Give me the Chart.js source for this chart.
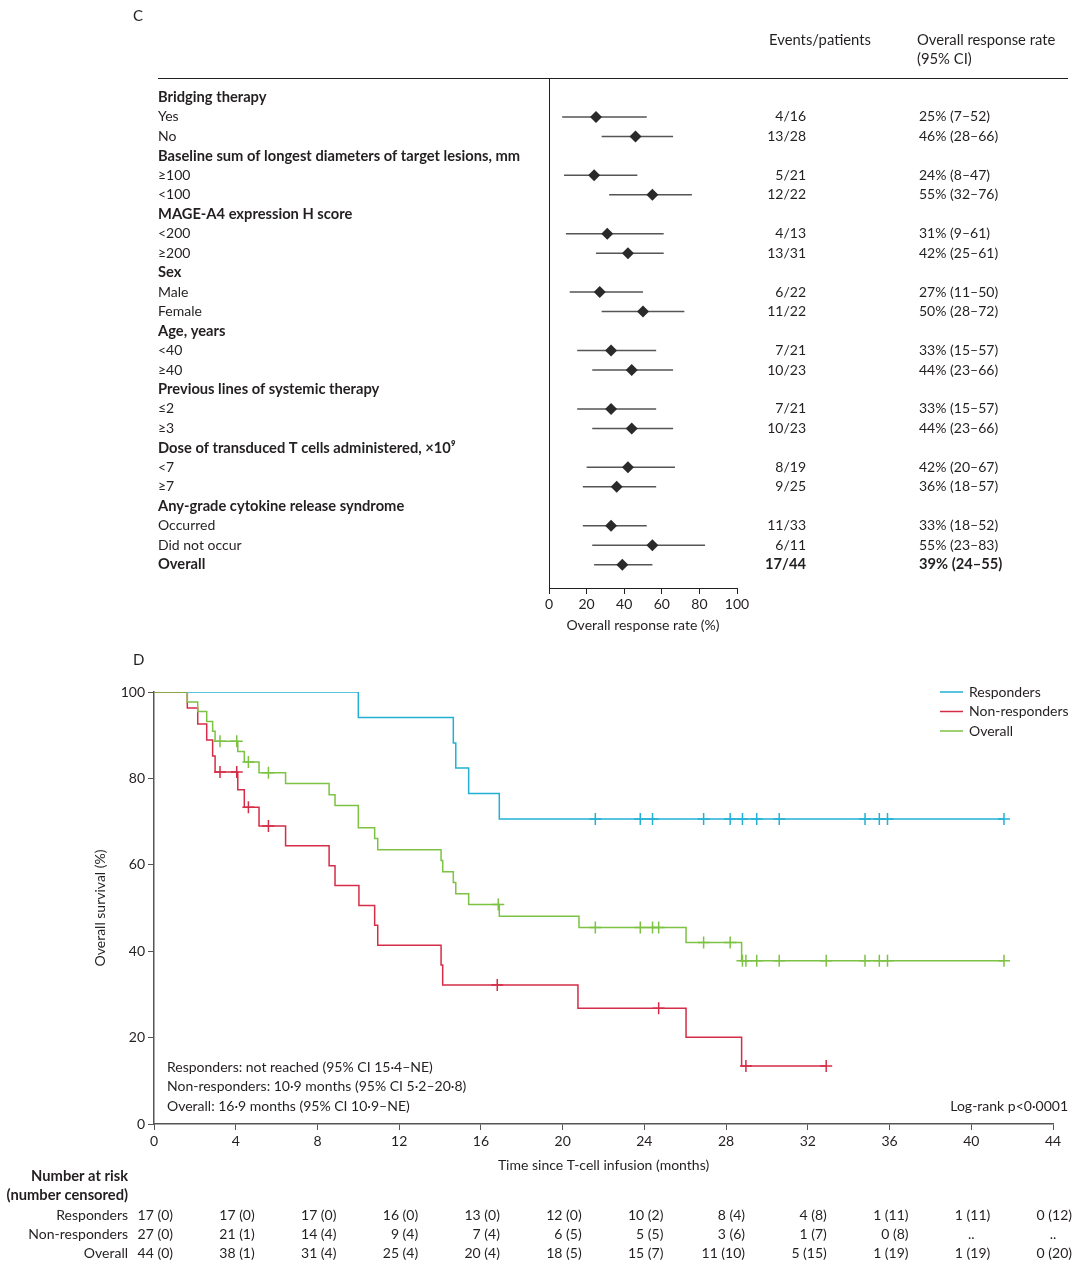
<!DOCTYPE html>
<html>
<head>
<meta charset="utf-8">
<script src="https://cdn.jsdelivr.net/npm/chart.js@4.4.0/dist/chart.umd.min.js"></script>
<style>
  body { margin: 0; background: #fff; }
  #wrap { position: relative; width: 1080px; height: 1270px; }
  canvas { position: absolute; left: 0; }
  #forest { top: 0; }
  #km { top: 650px; }
</style>
</head>
<body>
<div id="wrap">
  <canvas id="forest" width="1080" height="650"></canvas>
  <canvas id="km" width="1080" height="620"></canvas>
</div>
<script>
// ---- panel C data ----
const groupNames = [
  'Bridging therapy',
  'Baseline sum of longest diameters of target lesions, mm',
  'MAGE-A4 expression H score',
  'Sex',
  'Age, years',
  'Previous lines of systemic therapy',
  'Dose of transduced T cells administered, \u00d710\u2079',
  'Any-grade cytokine release syndrome'
];
const subgroupNames = ['Yes', 'No', '\u2265100', '<100', '<200', '\u2265200', 'Male', 'Female',
  '<40', '\u226540', '\u22642', '\u22653', '<7', '\u22657', 'Occurred', 'Did not occur', 'Overall'];
const eventsPatients = ['4/16', '13/28', '5/21', '12/22', '4/13', '13/31', '6/22', '11/22',
  '7/21', '10/23', '7/21', '10/23', '8/19', '9/25', '11/33', '6/11', '17/44'];
const responseRate = [25, 46, 24, 55, 31, 42, 27, 50, 33, 44, 33, 44, 42, 36, 33, 55, 39];
const ciLower = [7, 28, 8, 32, 9, 25, 11, 28, 15, 23, 15, 23, 20, 18, 18, 23, 24];
const ciUpper = [52, 66, 47, 76, 61, 61, 50, 72, 57, 66, 57, 66, 67, 57, 52, 83, 55];

// ---- panel D data ----
const monthTicks = [0, 4, 8, 12, 16, 20, 24, 28, 32, 36, 40, 44];
const respTime = [0, 10.0, 14.65, 14.77, 15.4, 16.9, 41.6];
const respSurv = [100, 94.1, 88.2, 82.4, 76.5, 70.6, 70.6];
const respCensTime = [21.6, 23.8, 24.4, 26.9, 28.2, 28.8, 29.5, 30.6, 34.8, 35.5, 35.9, 41.6];
const respCensSurv = [70.6, 70.6, 70.6, 70.6, 70.6, 70.6, 70.6, 70.6, 70.6, 70.6, 70.6, 70.6];
const nonTime = [0, 1.63, 2.14, 2.58, 2.87, 2.99, 4.1, 4.42, 5.14, 6.44, 8.57, 8.86, 10.03,
  10.8, 10.95, 14.05, 14.13, 20.75, 26.04, 28.76, 32.9];
const nonSurv = [100, 96.3, 92.6, 88.9, 85.2, 81.5, 77.4, 73.3, 69.0, 64.4, 59.8, 55.2, 50.6,
  46.0, 41.4, 36.8, 32.2, 26.8, 20.1, 13.4, 13.4];
const nonCensTime = [3.23, 4.05, 4.62, 5.6, 16.8, 24.7, 28.97, 32.9];
const nonCensSurv = [81.5, 81.5, 73.3, 69.0, 32.2, 26.8, 13.4, 13.4];
const allTime = [0, 1.63, 2.14, 2.58, 2.87, 2.99, 4.1, 4.42, 5.14, 6.44, 8.57, 8.86, 10.0,
  10.8, 10.95, 14.05, 14.13, 14.65, 14.77, 15.4, 16.9, 20.8, 26.04, 28.76, 41.6];
const allSurv = [100, 97.7, 95.5, 93.2, 90.9, 88.6, 86.2, 83.8, 81.3, 78.8, 76.2, 73.7, 68.6,
  66.1, 63.5, 61.0, 58.4, 55.9, 53.3, 50.8, 48.1, 45.5, 42.0, 37.8, 37.8];
const allCensTime = [3.23, 4.05, 4.62, 5.6, 16.85, 21.6, 23.8, 24.4, 24.7, 26.9, 28.2, 28.8,
  28.97, 29.5, 30.6, 32.9, 34.8, 35.5, 35.9, 41.6];
const allCensSurv = [88.6, 88.6, 83.8, 81.3, 50.8, 45.5, 45.5, 45.5, 45.5, 42.0, 42.0, 37.8,
  37.8, 37.8, 37.8, 37.8, 37.8, 37.8, 37.8, 37.8];
const riskResponders = ['17 (0)', '17 (0)', '17 (0)', '16 (0)', '13 (0)', '12 (0)', '10 (2)',
  '8 (4)', '4 (8)', '1 (11)', '1 (11)', '0 (12)'];
const riskNonResponders = ['27 (0)', '21 (1)', '14 (4)', '9 (4)', '7 (4)', '6 (5)', '5 (5)',
  '3 (6)', '1 (7)', '0 (8)', '..', '..'];
const riskOverall = ['44 (0)', '38 (1)', '31 (4)', '25 (4)', '20 (4)', '18 (5)', '15 (7)',
  '11 (10)', '5 (15)', '1 (19)', '1 (19)', '0 (20)'];

const ink = '#231f20';
const FONT = 'Lato';
const FS = 14;      // regular text
const FB = 14.7;    // bold text
const FH = 14.8;    // column headers
const blue = '#22b1d5', red = '#d52d47', green = '#7cc243';

Chart.defaults.font.family = FONT;
Chart.defaults.font.size = FS;
Chart.defaults.color = ink;

// row on the forest y scale: group header, two subgroups, ... overall last
function rowOf(i) { return i === 16 ? 24 : Math.floor(i / 2) * 3 + 1 + (i % 2); }

const ciSegments = [];
responseRate.forEach((v, i) => {
  ciSegments.push({ x: ciLower[i], y: rowOf(i) }, { x: ciUpper[i], y: rowOf(i) }, { x: ciUpper[i], y: null });
});

const forestText = {
  id: 'forestText',
  afterDraw(chart) {
    const ctx = chart.ctx;
    const ys = chart.scales.y;
    ctx.save();
    ctx.fillStyle = ink;
    ctx.textBaseline = 'middle';
    ctx.font = '15px ' + FONT;
    ctx.fillText('C', 133, 16);
    ctx.font = FH + 'px ' + FONT;
    ctx.fillText('Events/patients', 769, 40);
    ctx.fillText('Overall response rate', 917, 40);
    ctx.fillText('(95% CI)', 917, 59);
    ctx.strokeStyle = ink;
    ctx.lineWidth = 1;
    ctx.beginPath();
    ctx.moveTo(158, chart.chartArea.top + 0.5);
    ctx.lineTo(1068, chart.chartArea.top + 0.5);
    ctx.stroke();

    ctx.font = 'bold ' + FB + 'px ' + FONT;
    groupNames.forEach((g, k) => ctx.fillText(g, 158, ys.getPixelForValue(k * 3)));
    subgroupNames.forEach((s, i) => {
      const py = ys.getPixelForValue(rowOf(i));
      const bold = i === 16;
      ctx.font = bold ? 'bold ' + FB + 'px ' + FONT : FS + 'px ' + FONT;
      ctx.textAlign = 'left';
      ctx.fillText(s, 158, py);
      ctx.fillText(responseRate[i] + '% (' + ciLower[i] + '\u2013' + ciUpper[i] + ')', 919, py);
      ctx.textAlign = 'right';
      ctx.fillText(eventsPatients[i], 806, py);
    });
    ctx.restore();
  }
};

new Chart(document.getElementById('forest'), {
  type: 'scatter',
  data: {
    datasets: [
      {
        type: 'line',
        data: ciSegments,
        borderColor: '#555',
        borderWidth: 1.5,
        pointRadius: 0,
        spanGaps: false,
        order: 2
      },
      {
        data: responseRate.map((v, i) => ({ x: v, y: rowOf(i) })),
        pointStyle: 'rectRot',
        pointRadius: 6,
        backgroundColor: '#2a2a2a',
        borderColor: '#2a2a2a',
        borderWidth: 0,
        order: 1
      }
    ]
  },
  options: {
    responsive: false,
    animation: false,
    layout: { padding: { left: 549, right: 343, top: 78, bottom: 12 } },
    plugins: { legend: { display: false }, tooltip: { enabled: false } },
    scales: {
      x: {
        type: 'linear',
        min: 0, max: 100,
        afterFit: s => { s.height = 50; },
        ticks: { stepSize: 20, padding: 2, color: ink },
        grid: { drawOnChartArea: false, tickLength: 6, color: ink, lineWidth: 1 },
        border: { color: ink, width: 1 },
        title: { display: true, text: 'Overall response rate (%)', color: ink, font: { size: FS } }
      },
      y: {
        type: 'linear',
        reverse: true,
        min: -1, max: 25.2,
        afterFit: s => { s.width = 0; },
        ticks: { display: false },
        grid: { display: false },
        border: { color: ink, width: 1 }
      }
    }
  },
  plugins: [forestText]
});

// ---- panel D ----
function pts(t, s) { return t.map((v, i) => ({ x: v, y: s[i] })); }

const series = [
  { label: 'Responders', color: blue },
  { label: 'Non-responders', color: red },
  { label: 'Overall', color: green }
];

const kmText = {
  id: 'kmText',
  afterDraw(chart) {
    const ctx = chart.ctx;
    const xs = chart.scales.x;
    const off = 650;
    ctx.save();
    ctx.fillStyle = ink;
    ctx.textBaseline = 'middle';
    ctx.font = '15px ' + FONT;
    ctx.fillText('D', 133, 660 - off);

    // legend
    ctx.font = FS + 'px ' + FONT;
    series.forEach((s, k) => {
      const py = 692 - off + k * 19.5;
      ctx.strokeStyle = s.color;
      ctx.lineWidth = 1.5;
      ctx.beginPath();
      ctx.moveTo(940, py);
      ctx.lineTo(963, py);
      ctx.stroke();
      ctx.fillText(s.label, 969, py);
    });

    ctx.fillText('Responders: not reached (95% CI 15\u00b74\u2013NE)', 167, 1067 - off);
    ctx.fillText('Non-responders: 10\u00b79 months (95% CI 5\u00b72\u201320\u00b78)', 167, 1086 - off);
    ctx.fillText('Overall: 16\u00b79 months (95% CI 10\u00b79\u2013NE)', 167, 1106 - off);
    ctx.textAlign = 'right';
    ctx.fillText('Log-rank p<0\u00b70001', 1068, 1106 - off);

    // number at risk
    ctx.font = 'bold ' + FB + 'px ' + FONT;
    ctx.fillText('Number at risk', 128, 1176 - off);
    ctx.fillText('(number censored)', 128, 1195 - off);
    ctx.font = FS + 'px ' + FONT;
    const rows = [riskResponders, riskNonResponders, riskOverall];
    rows.forEach((r, k) => {
      const py = 1215 - off + k * 19.3;
      ctx.textAlign = 'right';
      ctx.fillText(series[k].label, 128, py);
      r.forEach((txt, j) => {
        const px = xs.getPixelForValue(monthTicks[j]);
        if (txt === '..') {
          ctx.textAlign = 'center';
          ctx.fillText(txt, px, py);
        } else {
          ctx.textAlign = 'right';
          ctx.fillText(txt, px + 19, py);
        }
      });
    });
    ctx.restore();
  }
};

const stepLine = (data, color) => ({
  type: 'line',
  data: data,
  stepped: 'before',
  borderColor: color,
  borderWidth: 1.5,
  pointRadius: 0,
  fill: false
});
const censor = (data, color) => ({
  type: 'scatter',
  data: data,
  pointStyle: 'cross',
  pointRadius: 6,
  borderColor: color,
  borderWidth: 1.5
});

new Chart(document.getElementById('km'), {
  type: 'scatter',
  data: {
    datasets: [
      stepLine(pts(allTime, allSurv), green),
      censor(pts(allCensTime, allCensSurv), green),
      stepLine(pts(nonTime, nonSurv), red),
      censor(pts(nonCensTime, nonCensSurv), red),
      stepLine(pts(respTime, respSurv), blue),
      censor(pts(respCensTime, respCensSurv), blue)
    ]
  },
  options: {
    responsive: false,
    animation: false,
    layout: { padding: { left: 88, right: 27, top: 42, bottom: 92 } },
    plugins: { legend: { display: false }, tooltip: { enabled: false } },
    scales: {
      x: {
        type: 'linear',
        min: 0, max: 44,
        afterFit: s => { s.height = 54; },
        afterBuildTicks: s => { s.ticks = monthTicks.map(v => ({ value: v })); },
        ticks: { padding: 3, color: ink },
        grid: { drawOnChartArea: false, tickLength: 6, color: '#555', lineWidth: 1 },
        border: { color: '#555', width: 1.5 },
        title: { display: true, text: 'Time since T-cell infusion (months)', color: ink, font: { size: FS } }
      },
      y: {
        type: 'linear',
        min: 0, max: 100,
        afterFit: s => { s.width = 66; },
        ticks: { stepSize: 20, padding: 3, color: ink },
        grid: { drawOnChartArea: false, tickLength: 6, color: '#555', lineWidth: 1 },
        border: { color: '#555', width: 1.5 },
        title: { display: true, text: 'Overall survival (%)', color: ink, font: { size: FS } }
      }
    }
  },
  plugins: [kmText]
});
</script>
</body>
</html>
